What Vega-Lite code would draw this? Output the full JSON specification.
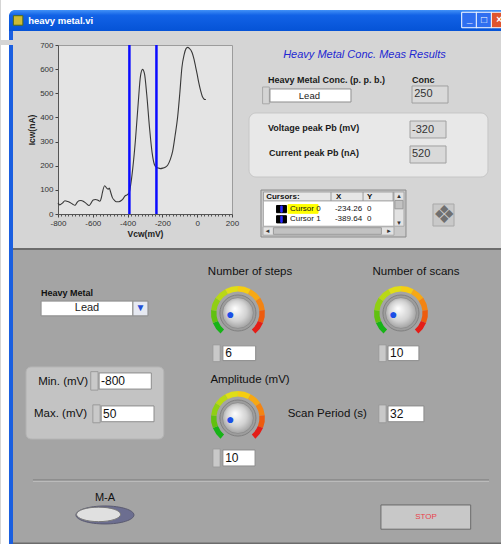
{
  "$schema": "https://vega.github.io/schema/vega-lite/v6.json",
  "background": "#d5d5d5",
  "padding": 0,
  "autosize": {"type": "pad"},
  "spacing": 0,
  "resolve": {"scale": {"fill": "independent", "stroke": "independent", "color": "independent", "theta": "independent", "x": "independent", "y": "independent"}},
  "config": {"view": {"stroke": null}, "font": "Liberation Sans"},
  "datasets": {
    "curve": [
      {"voltage_mV": -800, "current_nA": 46}, {"voltage_mV": -790, "current_nA": 38}, {"voltage_mV": -775, "current_nA": 45},
      {"voltage_mV": -760, "current_nA": 55}, {"voltage_mV": -745, "current_nA": 52}, {"voltage_mV": -731, "current_nA": 48},
      {"voltage_mV": -715, "current_nA": 40}, {"voltage_mV": -703, "current_nA": 36}, {"voltage_mV": -690, "current_nA": 48},
      {"voltage_mV": -680, "current_nA": 55}, {"voltage_mV": -668, "current_nA": 56}, {"voltage_mV": -655, "current_nA": 53},
      {"voltage_mV": -640, "current_nA": 45}, {"voltage_mV": -621, "current_nA": 35}, {"voltage_mV": -610, "current_nA": 45},
      {"voltage_mV": -598, "current_nA": 58}, {"voltage_mV": -585, "current_nA": 60}, {"voltage_mV": -573, "current_nA": 58},
      {"voltage_mV": -560, "current_nA": 53}, {"voltage_mV": -550, "current_nA": 70}, {"voltage_mV": -545, "current_nA": 88},
      {"voltage_mV": -532, "current_nA": 117}, {"voltage_mV": -520, "current_nA": 107}, {"voltage_mV": -511, "current_nA": 103},
      {"voltage_mV": -505, "current_nA": 107}, {"voltage_mV": -498, "current_nA": 92}, {"voltage_mV": -488, "current_nA": 69},
      {"voltage_mV": -475, "current_nA": 56}, {"voltage_mV": -465, "current_nA": 51}, {"voltage_mV": -450, "current_nA": 51},
      {"voltage_mV": -436, "current_nA": 56}, {"voltage_mV": -425, "current_nA": 64}, {"voltage_mV": -417, "current_nA": 73},
      {"voltage_mV": -405, "current_nA": 79}, {"voltage_mV": -396, "current_nA": 83}, {"voltage_mV": -390, "current_nA": 90},
      {"voltage_mV": -385, "current_nA": 108}, {"voltage_mV": -370, "current_nA": 191}, {"voltage_mV": -354, "current_nA": 315},
      {"voltage_mV": -339, "current_nA": 460}, {"voltage_mV": -326, "current_nA": 571}, {"voltage_mV": -314, "current_nA": 599},
      {"voltage_mV": -303, "current_nA": 581}, {"voltage_mV": -290, "current_nA": 495}, {"voltage_mV": -274, "current_nA": 357},
      {"voltage_mV": -259, "current_nA": 253}, {"voltage_mV": -246, "current_nA": 205}, {"voltage_mV": -234, "current_nA": 193},
      {"voltage_mV": -227, "current_nA": 191}, {"voltage_mV": -212, "current_nA": 188}, {"voltage_mV": -198, "current_nA": 190},
      {"voltage_mV": -184, "current_nA": 194}, {"voltage_mV": -170, "current_nA": 202}, {"voltage_mV": -155, "current_nA": 225},
      {"voltage_mV": -141, "current_nA": 260}, {"voltage_mV": -127, "current_nA": 325}, {"voltage_mV": -113, "current_nA": 398},
      {"voltage_mV": -100, "current_nA": 500}, {"voltage_mV": -88, "current_nA": 606}, {"voltage_mV": -75, "current_nA": 660},
      {"voltage_mV": -65, "current_nA": 684}, {"voltage_mV": -55, "current_nA": 690}, {"voltage_mV": -45, "current_nA": 686},
      {"voltage_mV": -29, "current_nA": 668}, {"voltage_mV": -18, "current_nA": 640}, {"voltage_mV": -10, "current_nA": 613},
      {"voltage_mV": 0, "current_nA": 578}, {"voltage_mV": 9, "current_nA": 544}, {"voltage_mV": 20, "current_nA": 510},
      {"voltage_mV": 29, "current_nA": 488}, {"voltage_mV": 37, "current_nA": 478}, {"voltage_mV": 44, "current_nA": 474},
      {"voltage_mV": 50, "current_nA": 474}
    ],
    "cursors": [
      {"cursor": "Cursor 0", "voltage_mV": -234.26, "current_nA": 0},
      {"cursor": "Cursor 1", "voltage_mV": -389.64, "current_nA": 0}
    ],
    "window_frame": [
      {"part": "outside", "gx": 0, "gx2": 0.383},
      {"part": "border", "gx": 0.383, "gx2": 0.575}
    ],
    "bottom_frame": [
      {"part": "outside", "gx": 0, "gx2": 0.383, "gy": -0.854, "gy2": 28},
      {"part": "border", "gx": 0.383, "gx2": 0.575, "gy": -0.854, "gy2": 28}
    ],
    "results_panel": [{"panel": "peaks", "gx": 1.89, "gx2": 28.44, "gy": 11.33, "gy2": 22}],
    "results_boxes": [
      {"kind": "spinner", "gx": 3.4, "gx2": 4.15, "gy": 7.0, "gy2": 9.8},
      {"kind": "control", "gx": 4.22, "gx2": 13.22, "gy": 7.33, "gy2": 9.5},
      {"kind": "indicator", "gx": 20, "gx2": 24, "gy": 6.83, "gy2": 9.67},
      {"kind": "indicator", "gx": 19.78, "gx2": 23.78, "gy": 12.67, "gy2": 15.5},
      {"kind": "indicator", "gx": 19.78, "gx2": 23.78, "gy": 16.83, "gy2": 19.67},
      {"kind": "tableFrame", "gx": 3.22, "gx2": 19.33, "gy": 24.17, "gy2": 32},
      {"kind": "tableHeader", "gx": 3.5, "gx2": 18, "gy": 24.5, "gy2": 26},
      {"kind": "tableBody", "gx": 3.5, "gx2": 18, "gy": 26, "gy2": 30.2},
      {"kind": "highlight", "gx": 6.22, "gx2": 9.56, "gy": 26.6, "gy2": 28.05},
      {"kind": "swatch", "gx": 4.95, "gx2": 6.05, "gy": 26.75, "gy2": 27.95},
      {"kind": "swatch", "gx": 4.95, "gx2": 6.05, "gy": 28.45, "gy2": 29.65},
      {"kind": "swatchMark", "gx": 5.42, "gx2": 5.58, "gy": 26.85, "gy2": 27.85},
      {"kind": "swatchMark", "gx": 5.42, "gx2": 5.58, "gy": 28.55, "gy2": 29.55},
      {"kind": "scroll", "gx": 18, "gx2": 19.11, "gy": 24.5, "gy2": 30.2},
      {"kind": "scrollThumb", "gx": 18.1, "gx2": 19.0, "gy": 25.9, "gy2": 27.3},
      {"kind": "scroll", "gx": 3.44, "gx2": 18, "gy": 30.3, "gy2": 31.7},
      {"kind": "scrollThumb", "gx": 4.6, "gx2": 16.6, "gy": 30.45, "gy2": 31.55},
      {"kind": "iconBg", "gx": 22.33, "gx2": 24.67, "gy": 26.5, "gy2": 30.17}
    ],
    "results_seps": [
      {"column": "X", "gx": 11, "gy": 24.5, "gy2": 26},
      {"column": "Y", "gx": 14.56, "gy": 24.5, "gy2": 26},
      {"column": "end", "gx": 17.9, "gy": 24.5, "gy2": 26}
    ],
    "results_title": [{"title": "Heavy Metal Conc. Meas Results", "gx": 14.72, "gy": 1.67}],
    "results_labels": [
      {"label": "Heavy Metal Conc. (p. p. b.)", "gx": 4, "gy": 5.83},
      {"label": "Conc", "gx": 20, "gy": 5.83},
      {"label": "Voltage peak Pb (mV)", "gx": 4, "gy": 13.83},
      {"label": "Current peak Pb (nA)", "gx": 4.1, "gy": 18}
    ],
    "results_values": [
      {"quantity": "Conc", "value": "250", "gx": 20.25, "gy": 8.25},
      {"quantity": "Voltage peak Pb (mV)", "value": "-320", "gx": 20.0, "gy": 14.1},
      {"quantity": "Current peak Pb (nA)", "value": "520", "gx": 20.0, "gy": 18.25}
    ],
    "results_metal": [{"metal": "Lead", "gx": 8.6, "gy": 8.42}],
    "table_header": [
      {"header": "Cursors:", "gx": 3.8, "gy": 25.3},
      {"header": "X", "gx": 11.56, "gy": 25.3},
      {"header": "Y", "gx": 15, "gy": 25.3}
    ],
    "table_cells": [
      {"cell": "Cursor 0", "gx": 6.44, "gy": 27.33},
      {"cell": "-234.26", "gx": 11.44, "gy": 27.33},
      {"cell": "0", "gx": 15, "gy": 27.33},
      {"cell": "Cursor 1", "gx": 6.44, "gy": 29.05},
      {"cell": "-389.64", "gx": 11.44, "gy": 29.05},
      {"cell": "0", "gx": 15, "gy": 29.05}
    ],
    "table_glyphs": [
      {"glyph": "▲", "gx": 18.55, "gy": 25.25},
      {"glyph": "▼", "gx": 18.55, "gy": 29.6},
      {"glyph": "◄", "gx": 3.95, "gy": 31.0},
      {"glyph": "►", "gx": 17.45, "gy": 31.0}
    ],
    "bottom_group": [{"group": "range", "gx": 1.2, "gx2": 7.8, "gy": 11.1, "gy2": 17.94}],
    "bottom_boxes": [
      {"kind": "control", "gx": 1.92, "gx2": 6.32, "gy": 4.85, "gy2": 6.25},
      {"kind": "menuButton", "gx": 6.32, "gx2": 7.04, "gy": 4.85, "gy2": 6.25},
      {"kind": "spinner", "gx": 4.3, "gx2": 4.65, "gy": 11.55, "gy2": 13.3},
      {"kind": "control", "gx": 4.7, "gx2": 7.2, "gy": 11.67, "gy2": 13.2},
      {"kind": "spinner", "gx": 4.4, "gx2": 4.75, "gy": 14.7, "gy2": 16.4},
      {"kind": "control", "gx": 4.8, "gx2": 7.33, "gy": 14.8, "gy2": 16.3},
      {"kind": "spinner", "gx": 10.15, "gx2": 10.5, "gy": 9.0, "gy2": 10.6},
      {"kind": "control", "gx": 10.63, "gx2": 12.2, "gy": 9.1, "gy2": 10.5},
      {"kind": "spinner", "gx": 18.1, "gx2": 18.45, "gy": 9.0, "gy2": 10.6},
      {"kind": "control", "gx": 18.54, "gx2": 20.02, "gy": 9.1, "gy2": 10.5},
      {"kind": "spinner", "gx": 10.15, "gx2": 10.5, "gy": 18.88, "gy2": 20.6},
      {"kind": "control", "gx": 10.63, "gx2": 12.17, "gy": 18.98, "gy2": 20.5},
      {"kind": "spinner", "gx": 18.1, "gx2": 18.45, "gy": 14.7, "gy2": 16.4},
      {"kind": "control", "gx": 18.54, "gx2": 20.26, "gy": 14.8, "gy2": 16.3},
      {"kind": "stopButton", "gx": 18.2, "gx2": 22.5, "gy": 24.2, "gy2": 26.5}
    ],
    "knobs": [
      {"knob": "Number of steps", "setting": 6, "gx": 11.35, "gy": 5.98, "dial": 1.3, "zone": [0,1,2,3,4,5,6,7,8,9], "zone_end": [1,2,3,4,5,6,7,8,9,10]},
      {"knob": "Number of scans", "setting": 10, "gx": 19.16, "gy": 5.98, "dial": 1.3, "zone": [0,1,2,3,4,5,6,7,8,9], "zone_end": [1,2,3,4,5,6,7,8,9,10]},
      {"knob": "Amplitude (mV)", "setting": 10, "gx": 11.35, "gy": 15.95, "dial": 1.3, "zone": [0,1,2,3,4,5,6,7,8,9], "zone_end": [1,2,3,4,5,6,7,8,9,10]}
    ],
    "bottom_titles": [
      {"control": "Number of steps", "gx": 11.93, "gy": 2.09},
      {"control": "Number of scans", "gx": 19.88, "gy": 2.09},
      {"control": "Amplitude (mV)", "gx": 11.93, "gy": 12.34}
    ],
    "bottom_labels": [
      {"control": "Min. (mV)", "gx": 4.17, "gy": 12.5},
      {"control": "Max. (mV)", "gx": 4.12, "gy": 15.57},
      {"control": "Scan Period (s)", "gx": 17.53, "gy": 15.57}
    ],
    "bottom_values": [
      {"control": "Min. (mV)", "value": -800, "gx": 4.79, "gy": 12.43},
      {"control": "Max. (mV)", "value": 50, "gx": 4.89, "gy": 15.57},
      {"control": "Number of steps", "value": 6, "gx": 10.74, "gy": 9.8},
      {"control": "Number of scans", "value": 10, "gx": 18.64, "gy": 9.8},
      {"control": "Amplitude (mV)", "value": 10, "gx": 10.74, "gy": 19.74},
      {"control": "Scan Period (s)", "value": 32, "gx": 18.64, "gy": 15.57}
    ]
  },
  "vconcat": [
    {
      "width": 501, "height": 40,
      "view": {"fill": "#ffffff", "stroke": null},
      "encoding": {
        "x": {"field": "gx", "type": "quantitative", "scale": {"domain": [0, 24], "nice": false, "zero": false}, "axis": null},
        "y": {"field": "gy", "type": "quantitative", "scale": {"domain": [0, 1.2903], "nice": false, "zero": false, "reverse": true}, "axis": null}
      },
      "layer": [
        {
          "data": {"values": [{"part": "panel", "gx": 0.383, "gx2": 24, "gy": 1, "gy2": 1.2903}]},
          "mark": {"type": "rect", "fill": "#d5d5d5"},
          "encoding": {"x2": {"field": "gx2"}, "y2": {"field": "gy2"}}
        },
        {
          "data": {"values": [{"part": "border", "gx": 0.383, "gx2": 0.575, "gy": 0.5, "gy2": 1.2903}]},
          "mark": {"type": "rect", "fill": "#1a5fe0"},
          "encoding": {"x2": {"field": "gx2"}, "y2": {"field": "gy2"}}
        },
        {
          "data": {"values": [{"window": "heavy metal.vi", "gx": 0.383, "gx2": 24, "gy": 0.3226, "gy2": 1}]},
          "mark": {"type": "rect", "cornerRadiusTopLeft": 6, "fill": {"gradient": "linear", "x1": 0, "y1": 0, "x2": 0, "y2": 1, "stops": [{"offset": 0, "color": "#4291f7"}, {"offset": 0.25, "color": "#1262e6"}, {"offset": 1, "color": "#0553d6"}]}},
          "encoding": {"x2": {"field": "gx2"}, "y2": {"field": "gy2"}}
        },
        {
          "data": {"values": [{"window": "heavy metal.vi", "gx": 0.82, "gy": 0.66}]},
          "mark": {"type": "point", "shape": "square", "filled": true, "size": 90, "fill": "#cdbb35", "stroke": "#4f6b1a", "strokeWidth": 1, "opacity": 1}
        },
        {
          "data": {"values": [{"window": "heavy metal.vi", "gx": 1.3, "gy": 0.68}]},
          "mark": {"type": "text", "align": "left", "baseline": "middle", "fontSize": 9.5, "fontWeight": "bold", "color": "#ffffff"},
          "encoding": {"text": {"field": "window"}}
        },
        {
          "data": {"values": [{"button": "minimize", "gx": 22.44, "gy": 0.645}, {"button": "maximize", "gx": 23.14, "gy": 0.645}]},
          "mark": {"type": "point", "shape": "square", "filled": true, "size": 240, "fill": "#2f6ff0", "stroke": "#ffffff", "strokeWidth": 1, "opacity": 1}
        },
        {
          "data": {"values": [{"button": "close", "gx": 23.86, "gy": 0.645}]},
          "mark": {"type": "point", "shape": "square", "filled": true, "size": 240, "fill": "#e0552e", "stroke": "#ffffff", "strokeWidth": 1, "opacity": 1}
        },
        {
          "data": {"values": [{"button": "minimize", "glyph": "_", "gx": 22.44, "gy": 0.6}, {"button": "maximize", "glyph": "□", "gx": 23.14, "gy": 0.645}, {"button": "close", "glyph": "×", "gx": 23.86, "gy": 0.645}]},
          "mark": {"type": "text", "align": "center", "baseline": "middle", "fontSize": 10, "fontWeight": "bold", "color": "#ffffff"},
          "encoding": {"text": {"field": "glyph"}}
        }
      ]
    },
    {
      "spacing": 0,
      "bounds": "flush",
      "resolve": {"scale": {"fill": "independent", "stroke": "independent", "color": "independent", "x": "independent", "y": "independent"}},
      "hconcat": [
        {
          "width": 57, "height": 196,
          "data": {"name": "window_frame"},
          "mark": {"type": "rect"},
          "encoding": {
            "x": {"field": "gx", "type": "quantitative", "scale": {"domain": [0, 2.7305], "nice": false, "zero": false}, "axis": null},
            "x2": {"field": "gx2"},
            "fill": {"field": "part", "type": "nominal", "legend": null, "scale": {"domain": ["outside", "border"], "range": ["#ffffff", "#1a5fe0"]}}
          }
        },
        {
          "width": 174, "height": 169,
          "view": {"fill": "#e4e4e4", "stroke": "#9c9c9c"},
          "layer": [
            {
              "data": {"name": "curve"},
              "mark": {"type": "line", "color": "#383838", "strokeWidth": 1.1, "interpolate": "monotone"},
              "encoding": {
                "x": {"field": "voltage_mV", "type": "quantitative", "scale": {"domain": [-800, 200], "nice": false, "zero": false},
                  "axis": {"title": "Vcw(mV)", "values": [-800, -600, -400, -200, 0, 200], "labelExpr": "'' + datum.value", "labelFlush": false, "labelOverlap": false, "labelFontSize": 8, "labelColor": "#333333", "labelPadding": 2, "tickSize": 3, "tickColor": "#444444", "domainColor": "#555555", "grid": false, "titleFontSize": 8.5, "titleFontWeight": "bold", "titleColor": "#222222", "titlePadding": 2}},
                "y": {"field": "current_nA", "type": "quantitative", "scale": {"domain": [0, 700], "nice": false},
                  "axis": {"title": "Icw(nA)", "values": [0, 100, 200, 300, 400, 500, 600, 700], "labelFontSize": 8, "labelColor": "#333333", "labelPadding": 2, "tickSize": 3, "tickColor": "#444444", "domainColor": "#555555", "grid": false, "titleFontSize": 8.5, "titleFontWeight": "bold", "titleColor": "#222222", "titlePadding": 3}}
              }
            },
            {
              "data": {"name": "cursors"},
              "mark": {"type": "rule", "color": "#0b0bff", "strokeWidth": 2.5},
              "encoding": {
                "x": {"field": "voltage_mV", "type": "quantitative",
                  "axis": {"orient": "bottom", "values": [-780, -760, -740, -720, -700, -680, -660, -640, -620, -580, -560, -540, -520, -500, -480, -460, -440, -420, -380, -360, -340, -320, -300, -280, -260, -240, -220, -180, -160, -140, -120, -100, -80, -60, -40, -20, 20, 40, 60, 80, 100, 120, 140, 160, 180], "labels": false, "tickSize": 2, "tickColor": "#555555", "domain": false, "grid": false, "title": null}}
              }
            }
          ],
          "resolve": {"axis": {"x": "independent"}}
        },
        {
          "width": 270, "height": 196,
          "encoding": {
            "x": {"field": "gx", "type": "quantitative", "scale": {"domain": [0, 30], "nice": false, "zero": false}, "axis": null},
            "y": {"field": "gy", "type": "quantitative", "scale": {"domain": [0, 32.667], "nice": false, "zero": false, "reverse": true}, "axis": null}
          },
          "layer": [
            {
              "data": {"name": "results_panel"},
              "mark": {"type": "rect", "cornerRadius": 7, "fill": "#e8e8e8", "stroke": "#c6c6c6"},
              "encoding": {"x2": {"field": "gx2"}, "y2": {"field": "gy2"}}
            },
            {
              "data": {"name": "results_boxes"},
              "mark": {"type": "rect", "strokeWidth": 1},
              "encoding": {
                "x2": {"field": "gx2"}, "y2": {"field": "gy2"},
                "fill": {"field": "kind", "type": "nominal", "legend": null, "scale": {"domain": ["spinner", "control", "indicator", "tableFrame", "tableHeader", "tableBody", "highlight", "swatch", "swatchMark", "scroll", "scrollThumb", "iconBg"], "range": ["#d4d4d4", "#ffffff", "#d9d9d9", "#c9c9c9", "#e6e6e6", "#ffffff", "#ffff00", "#000000", "#2a2aff", "#e2e2e2", "#c2c2c2", "#c9c9c9"]}},
                "stroke": {"field": "kind", "type": "nominal", "legend": null, "scale": {"domain": ["spinner", "control", "indicator", "tableFrame", "tableHeader", "tableBody", "highlight", "swatch", "swatchMark", "scroll", "scrollThumb", "iconBg"], "range": ["#a8a8a8", "#8f8f8f", "#a0a0a0", "#8a8a8a", "#a0a0a0", "#b0b0b0", "#ffff00", "#000000", "#2a2aff", "#a8a8a8", "#9a9a9a", "#a8a8a8"]}}
              }
            },
            {
              "data": {"name": "results_seps"},
              "mark": {"type": "rule", "color": "#9a9a9a", "strokeWidth": 1},
              "encoding": {"y2": {"field": "gy2"}}
            },
            {
              "data": {"name": "results_title"},
              "mark": {"type": "text", "align": "center", "baseline": "middle", "fontSize": 11, "fontStyle": "italic", "color": "#1e28d2"},
              "encoding": {"text": {"field": "title"}}
            },
            {
              "data": {"name": "results_labels"},
              "mark": {"type": "text", "align": "left", "baseline": "middle", "fontSize": 9, "fontWeight": "bold", "color": "#1a1a1a"},
              "encoding": {"text": {"field": "label"}}
            },
            {
              "data": {"name": "results_values"},
              "mark": {"type": "text", "align": "left", "baseline": "middle", "fontSize": 11, "color": "#333333"},
              "encoding": {"text": {"field": "value", "type": "nominal"}}
            },
            {
              "data": {"name": "results_metal"},
              "mark": {"type": "text", "align": "center", "baseline": "middle", "fontSize": 9.5, "color": "#222222"},
              "encoding": {"text": {"field": "metal"}}
            },
            {
              "data": {"name": "table_header"},
              "mark": {"type": "text", "align": "left", "baseline": "middle", "fontSize": 8, "fontWeight": "bold", "color": "#111111"},
              "encoding": {"text": {"field": "header"}}
            },
            {
              "data": {"name": "table_cells"},
              "mark": {"type": "text", "align": "left", "baseline": "middle", "fontSize": 8, "color": "#111111"},
              "encoding": {"text": {"field": "cell", "type": "nominal"}}
            },
            {
              "data": {"name": "table_glyphs"},
              "mark": {"type": "text", "align": "center", "baseline": "middle", "fontSize": 6, "color": "#333333"},
              "encoding": {"text": {"field": "glyph"}}
            },
            {
              "data": {"values": [{"glyph": "❖", "gx": 23.5, "gy": 28.4}]},
              "mark": {"type": "text", "align": "center", "baseline": "middle", "fontSize": 25, "color": "#707070"},
              "encoding": {"text": {"field": "glyph"}}
            }
          ]
        }
      ]
    },
    {
      "width": 501, "height": 304,
      "view": {"fill": "#a4a4a4", "stroke": null},
      "encoding": {
        "x": {"field": "gx", "type": "quantitative", "scale": {"domain": [0, 24], "nice": false, "zero": false}, "axis": null},
        "y": {"field": "gy", "type": "quantitative", "scale": {"domain": [-0.854, 28], "nice": false, "zero": false, "reverse": true}, "axis": null}
      },
      "layer": [
        {
          "data": {"values": [{"part": "panel", "gx": 0, "gx2": 24, "gy": -0.854, "gy2": -0.2}]},
          "mark": {"type": "rect", "fill": "#d5d5d5"},
          "encoding": {"x2": {"field": "gx2"}, "y2": {"field": "gy2"}}
        },
        {
          "data": {"values": [{"line": "panel edge", "gx": 0, "gx2": 24, "gy": -0.1}, {"line": "panel edge", "gx": 0, "gx2": 24, "gy": 27.85}]},
          "mark": {"type": "rule", "color": "#6c6c6c", "strokeWidth": 2},
          "encoding": {"x2": {"field": "gx2"}}
        },
        {
          "data": {"name": "bottom_frame"},
          "transform": [{"filter": "datum.part === 'outside'"}],
          "mark": {"type": "rect", "fill": "#ffffff"},
          "encoding": {"x2": {"field": "gx2"}, "y2": {"field": "gy2"}}
        },
        {
          "data": {"name": "bottom_frame"},
          "transform": [{"filter": "datum.part === 'border'"}],
          "mark": {"type": "rect", "fill": "#1a5fe0"},
          "encoding": {"x2": {"field": "gx2"}, "y2": {"field": "gy2"}}
        },
        {
          "data": {"name": "bottom_group"},
          "mark": {"type": "rect", "cornerRadius": 5, "fill": "#c3c3c3", "stroke": "#b4b4b4"},
          "encoding": {"x2": {"field": "gx2"}, "y2": {"field": "gy2"}}
        },
        {
          "data": {"values": [{"line": "separator", "gx": 1.53, "gx2": 23.38, "gy": 21.83}]},
          "mark": {"type": "rule", "color": "#7a7a7a", "strokeWidth": 1},
          "encoding": {"x2": {"field": "gx2"}}
        },
        {
          "data": {"values": [{"line": "separator", "gx": 1.53, "gx2": 23.38, "gy": 21.95}]},
          "mark": {"type": "rule", "color": "#c2c2c2", "strokeWidth": 1},
          "encoding": {"x2": {"field": "gx2"}}
        },
        {
          "data": {"name": "bottom_boxes"},
          "mark": {"type": "rect", "strokeWidth": 1},
          "encoding": {
            "x2": {"field": "gx2"}, "y2": {"field": "gy2"},
            "fill": {"field": "kind", "type": "nominal", "legend": null, "scale": {"domain": ["control", "menuButton", "spinner", "stopButton"], "range": ["#ffffff", "#e6e9f1", "#c9c9c9", "#c8c8c8"]}},
            "stroke": {"field": "kind", "type": "nominal", "legend": null, "scale": {"domain": ["control", "menuButton", "spinner", "stopButton"], "range": ["#8c8c8c", "#8c8c8c", "#9a9a9a", "#6a6a6a"]}}
          }
        },
        {
          "data": {"name": "knobs"},
          "transform": [{"flatten": ["zone", "zone_end"]}],
          "mark": {"type": "arc", "radius": 27, "radius2": 21.5},
          "encoding": {
            "theta": {"field": "zone", "type": "quantitative", "stack": null, "scale": {"domain": [0, 10], "range": [-2.44, 2.44]}},
            "theta2": {"field": "zone_end"},
            "color": {"field": "zone", "type": "quantitative", "legend": null, "scale": {"domain": [0, 2.5, 4.5, 6.5, 9], "range": ["#17b317", "#a6d51a", "#f3e01c", "#f5961c", "#e41d17"]}}
          }
        },
        {
          "data": {"name": "knobs"},
          "mark": {"type": "point", "shape": "circle", "filled": true, "size": 1300, "fill": "#9d9d9d", "stroke": "#808080", "strokeWidth": 1, "opacity": 1}
        },
        {
          "data": {"name": "knobs"},
          "mark": {"type": "point", "shape": "circle", "filled": true, "size": 960, "opacity": 1, "stroke": "#8a8a8a", "strokeWidth": 0.8,
            "fill": {"gradient": "radial", "x1": 0.4, "y1": 0.35, "r1": 0, "x2": 0.5, "y2": 0.5, "r2": 0.6, "stops": [{"offset": 0, "color": "#ffffff"}, {"offset": 0.55, "color": "#d2d2d2"}, {"offset": 1, "color": "#8e8e8e"}]}}
        },
        {
          "data": {"name": "knobs"},
          "mark": {"type": "text", "radius": 8, "fontSize": 14, "color": "#1c4fe6", "align": "center", "baseline": "middle"},
          "encoding": {
            "theta": {"field": "dial", "type": "quantitative", "stack": null},
            "text": {"value": "●"}
          }
        },
        {
          "data": {"values": [{"control": "M-A", "gx": 4.98, "gy": 25.15}]},
          "mark": {"type": "point", "shape": "M -1 0 A 1 0.31 0 1 0 1 0 A 1 0.31 0 1 0 -1 0 Z", "filled": true, "size": 3364, "fill": "#6c6e90", "stroke": "#5a5a70", "strokeWidth": 1, "opacity": 1}
        },
        {
          "data": {"values": [{"control": "M-A", "gx": 4.98, "gy": 25.15}]},
          "mark": {"type": "point", "shape": "M -0.98 -0.02 A 0.76 0.25 0 1 0 0.54 -0.02 A 0.76 0.25 0 1 0 -0.98 -0.02 Z", "filled": true, "size": 3364, "fill": "#e0e0e0", "stroke": "#777777", "strokeWidth": 1, "opacity": 1}
        },
        {
          "data": {"name": "bottom_titles"},
          "mark": {"type": "text", "align": "center", "baseline": "middle", "fontSize": 11.5, "color": "#111111"},
          "encoding": {"text": {"field": "control"}}
        },
        {
          "data": {"name": "bottom_labels"},
          "mark": {"type": "text", "align": "right", "baseline": "middle", "fontSize": 11.5, "color": "#111111"},
          "encoding": {"text": {"field": "control"}}
        },
        {
          "data": {"values": [{"control": "Heavy Metal", "gx": 3.16, "gy": 4.08}]},
          "mark": {"type": "text", "align": "center", "baseline": "middle", "fontSize": 9, "fontWeight": "bold", "color": "#111111"},
          "encoding": {"text": {"field": "control"}}
        },
        {
          "data": {"values": [{"control": "Heavy Metal", "value": "Lead", "gx": 4.12, "gy": 5.55}]},
          "mark": {"type": "text", "align": "center", "baseline": "middle", "fontSize": 11, "color": "#222222"},
          "encoding": {"text": {"field": "value"}}
        },
        {
          "data": {"values": [{"control": "Heavy Metal", "glyph": "▼", "gx": 6.68, "gy": 5.55}]},
          "mark": {"type": "text", "align": "center", "baseline": "middle", "fontSize": 10, "color": "#1f4fd8"},
          "encoding": {"text": {"field": "glyph"}}
        },
        {
          "data": {"name": "bottom_values"},
          "mark": {"type": "text", "align": "left", "baseline": "middle", "fontSize": 12, "color": "#111111"},
          "encoding": {"text": {"field": "value", "type": "nominal"}}
        },
        {
          "data": {"values": [{"control": "M-A", "gx": 4.98, "gy": 23.54}]},
          "mark": {"type": "text", "align": "center", "baseline": "middle", "fontSize": 11, "color": "#111111"},
          "encoding": {"text": {"field": "control"}}
        },
        {
          "data": {"values": [{"control": "STOP", "gx": 20.36, "gy": 25.35}]},
          "mark": {"type": "text", "align": "center", "baseline": "middle", "fontSize": 8, "color": "#e8404a"},
          "encoding": {"text": {"field": "control"}}
        }
      ]
    }
  ]
}
